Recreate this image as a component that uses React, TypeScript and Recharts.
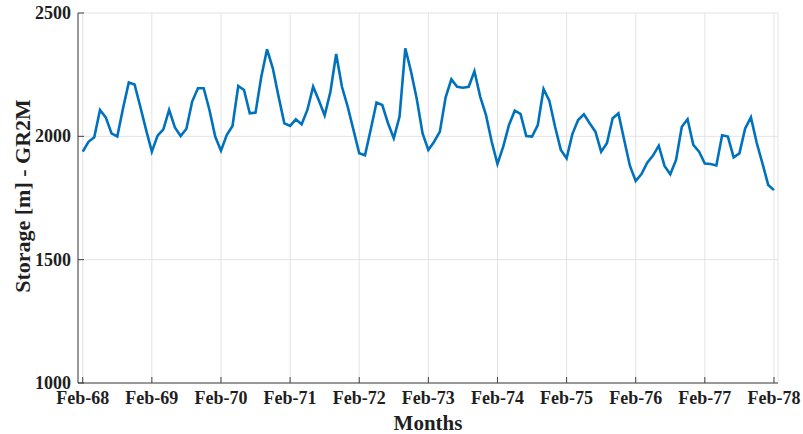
import { LineChart, Line, XAxis, YAxis, CartesianGrid } from "recharts";

const tickLabels = ["Feb-68", "Feb-69", "Feb-70", "Feb-71", "Feb-72", "Feb-73", "Feb-74", "Feb-75", "Feb-76", "Feb-77", "Feb-78"];
const tickMonths = [0, 12, 24, 36, 48, 60, 72, 84, 96, 108, 120];
const yTicks = [1000, 1500, 2000, 2500];

// monthly storage, Feb-68 .. Feb-78
const storage = [
  1938, 1978, 1996, 2107, 2077, 2012, 1999, 2114, 2218, 2210, 2120, 2026,
  1938, 2003, 2028, 2107, 2036, 2001, 2031, 2141, 2195, 2195, 2107, 1999,
  1942, 2005, 2042, 2204, 2188, 2093, 2096, 2242, 2353, 2276, 2161, 2053,
  2042, 2069, 2049, 2107, 2201, 2145, 2085, 2181, 2334, 2201, 2120, 2026,
  1931, 1923, 2028, 2137, 2127, 2053, 1992, 2080, 2357, 2262, 2150, 2012,
  1945, 1978, 2019, 2158, 2231, 2201, 2197, 2201, 2264, 2161, 2087, 1978,
  1888, 1958, 2046, 2104, 2091, 2001, 1999, 2046, 2192, 2145, 2039, 1945,
  1911, 2009, 2066, 2089, 2053, 2019, 1938, 1972, 2073, 2093, 1985, 1880,
  1819, 1847, 1893, 1922, 1962, 1880, 1846, 1904, 2039, 2069, 1965, 1938,
  1890, 1888, 1882, 2004, 1999, 1915, 1931, 2032, 2077, 1974, 1890, 1803,
  1782,
];

const data = storage.map((v, i) => ({ month: i, storage: v }));

const FONT = "'Liberation Serif', 'Times New Roman', serif";
const AXIS = "#404040";
const TEXT = "#1f1f1f";
const TICK_LEN = 6;

const labelFor = (m: number) => tickLabels[tickMonths.indexOf(m)] ?? "";

function BottomTick({ x, y, payload }: any) {
  return (
    <g>
      <line x1={x} y1={y} x2={x} y2={y - TICK_LEN} stroke={AXIS} strokeWidth={1} />
      <text x={x} y={y + 21} textAnchor="middle" fontFamily={FONT} fontWeight="bold" fontSize={18} fill={TEXT}>
        {labelFor(payload.value)}
      </text>
    </g>
  );
}

function TopTick({ x, y }: any) {
  return <line x1={x} y1={y} x2={x} y2={y + TICK_LEN} stroke={AXIS} strokeWidth={1} />;
}

function LeftTick({ x, y, payload }: any) {
  return (
    <g>
      <line x1={x} y1={y} x2={x + TICK_LEN} y2={y} stroke={AXIS} strokeWidth={1} />
      <text x={x - 7} y={y + 6} textAnchor="end" fontFamily={FONT} fontWeight="bold" fontSize={18} fill={TEXT}>
        {payload.value}
      </text>
    </g>
  );
}

function RightTick({ x, y }: any) {
  return <line x1={x} y1={y} x2={x - TICK_LEN} y2={y} stroke={AXIS} strokeWidth={1} />;
}

export default function App() {
  return (
    <div style={{ position: "absolute", left: 0, top: 0, background: "#fff" }}>
      <LineChart width={803} height={434} data={data} margin={{ top: 13, right: 25, bottom: 0, left: 0 }}>
        <CartesianGrid stroke="#e3e3e3" strokeWidth={1} />
        <XAxis
          dataKey="month"
          type="number"
          domain={[-0.82, 120.7]}
          ticks={tickMonths}
          height={51}
          tickSize={0}
          tickMargin={0}
          tickLine={false}
          axisLine={{ stroke: AXIS, strokeWidth: 1 }}
          tick={<BottomTick />}
          interval={0}
          label={{
            value: "Months",
            position: "insideBottom",
            offset: 4,
            style: { fontFamily: FONT, fontWeight: "bold", fontSize: 21, fill: TEXT },
          }}
        />
        <XAxis
          xAxisId="top"
          orientation="top"
          dataKey="month"
          type="number"
          domain={[-0.82, 120.7]}
          ticks={tickMonths}
          height={0}
          tickSize={0}
          tickMargin={0}
          tickLine={false}
          axisLine={{ stroke: AXIS, strokeWidth: 1 }}
          tick={<TopTick />}
          interval={0}
        />
        <YAxis
          type="number"
          domain={[1000, 2500]}
          ticks={yTicks}
          width={78}
          tickSize={0}
          tickMargin={0}
          tickLine={false}
          axisLine={{ stroke: AXIS, strokeWidth: 1 }}
          tick={<LeftTick />}
          interval={0}
          label={{
            content: () => (
              <text
                x={22}
                y={196}
                transform="rotate(-90 22 196)"
                textAnchor="middle"
                dominantBaseline="central"
                fontFamily={FONT}
                fontWeight="bold"
                fontSize={22}
                fill={TEXT}
              >
                Storage [m] - GR2M
              </text>
            ),
          }}
        />
        <YAxis
          yAxisId="right"
          orientation="right"
          type="number"
          domain={[1000, 2500]}
          ticks={yTicks}
          width={0}
          tickSize={0}
          tickMargin={0}
          tickLine={false}
          axisLine={{ stroke: AXIS, strokeWidth: 1 }}
          tick={<RightTick />}
          interval={0}
        />
        <Line
          type="linear"
          dataKey="storage"
          stroke="#0072BD"
          strokeWidth={2.6}
          dot={false}
          isAnimationActive={false}
        />
      </LineChart>
    </div>
  );
}
